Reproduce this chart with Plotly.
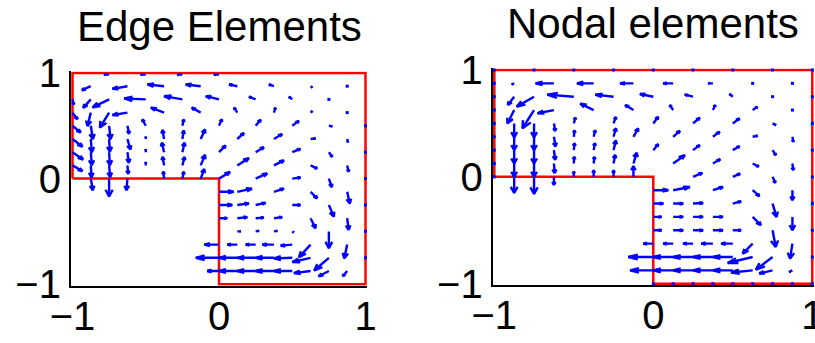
import plotly.graph_objects as go

# ---------------- data ----------------
BOUNDARY_X = [-1, -1, 1, 1, 0, 0, -1]
BOUNDARY_Y = [0, 1, 1, -1, -1, 0, 0]
TICK_VALS = [-1, 0, 1]
TICK_TEXT = ["\u22121", "0", "1"]
TITLES = ["Edge Elements", "Nodal elements"]

# Edge elements: rows of base points (y), x positions and vector components
EDGE_Y = [0.985, 0.875, 0.75, 0.625, 0.5, 0.375, 0.25, 0.125, 0.0,
          -0.125, -0.25, -0.375, -0.5, -0.625, -0.75, -0.875]
EDGE_X = [
    [-0.75, -0.5, -0.25, 0.0],
    [-0.875, -0.625, -0.375, -0.125, 0.125, 0.375, 0.625, 0.875],
    [-1.0, -0.875, -0.75, -0.5, -0.25, 0.0, 0.25, 0.5, 0.75],
    [-1.0, -0.875, -0.75, -0.625, -0.375, -0.125, 0.125, 0.375, 0.625, 0.875],
    [-1.0, -0.875, -0.75, -0.625, -0.5, -0.25, 0.0, 0.25, 0.5, 0.75, 1.0],
    [-1.0, -0.875, -0.75, -0.625, -0.5, -0.375, -0.25, -0.125, 0.125, 0.375, 0.625, 0.875],
    [-1.0, -0.875, -0.75, -0.625, -0.5, -0.375, -0.25, 0.0, 0.25, 0.5, 0.75, 1.0],
    [-1.0, -0.875, -0.75, -0.625, -0.5, -0.375, -0.25, -0.125, 0.125, 0.375, 0.625, 0.875],
    [-0.875, -0.75, -0.625, -0.375, -0.25, -0.125, 0.0, 0.25, 0.5, 0.75, 1.0],
    [0.0, 0.125, 0.375, 0.625, 0.875],
    [0.0, 0.125, 0.25, 0.5, 0.75, 1.0],
    [0.0, 0.125, 0.25, 0.375, 0.625, 0.875],
    [0.125, 0.25, 0.375, 0.5, 0.75, 1.0],
    [0.0, 0.125, 0.25, 0.375, 0.5, 0.625, 0.875],
    [0.0, 0.125, 0.25, 0.375, 0.5, 0.625, 0.75, 1.0],
    [0.0, 0.125, 0.25, 0.375, 0.5, 0.625, 0.75, 0.875],
]
EDGE_U = [
    [-0.035, -0.035, -0.035, -0.035],
    [-0.061, -0.102, -0.113, -0.102, -0.056, -0.034, 0.012, 0.0],
    [0.009, -0.052, -0.113, -0.147, -0.125, -0.09, -0.045, -0.022, 0.0],
    [0.034, -0.023, -0.063, -0.102, -0.09, -0.061, -0.022, 0.01, 0.012, 0.0],
    [0.056, 0.014, 0.01, 0.011, -0.023, 0.01, 0.02, 0.034, 0.045, 0.023, 0.0],
    [0.068, 0.007, 0.005, 0.02, 0.0, -0.011, 0.01, 0.03, 0.045, 0.056, 0.034, 0.005],
    [0.072, 0.007, 0.005, 0.01, 0.0, -0.015, 0.015, 0.045, 0.056, 0.056, 0.023, 0.0],
    [0.068, 0.005, 0.007, 0.005, 0.0, -0.01, 0.015, 0.03, 0.079, 0.068, 0.045, 0.01],
    [0.014, 0.0, -0.007, -0.005, 0.01, 0.025, 0.075, 0.079, 0.056, 0.02, 0.0],
    [0.1, 0.1, 0.068, 0.045, 0.018],
    [0.09, 0.079, 0.068, 0.056, 0.034, 0.0],
    [0.056, 0.068, 0.056, 0.056, 0.034, 0.01],
    [0.023, 0.023, 0.023, 0.01, 0.0, 0.0],
    [-0.1, -0.068, -0.068, -0.079, -0.079, -0.079, -0.02],
    [-0.158, -0.125, -0.125, -0.125, -0.125, -0.124, -0.1, 0.0],
    [-0.08, -0.125, -0.125, -0.125, -0.125, -0.113, -0.07, -0.03],
]
EDGE_V = [
    [0.0, 0.0, 0.0, 0.0],
    [-0.038, -0.025, 0.016, 0.016, 0.016, 0.016, -0.012, 0.0],
    [-0.047, -0.079, -0.076, 0.009, 0.031, 0.031, 0.025, 0.025, 0.0],
    [-0.063, -0.126, -0.142, -0.023, 0.047, 0.047, 0.047, 0.045, 0.015, 0.0],
    [-0.063, -0.126, -0.126, -0.075, 0.06, 0.06, 0.061, 0.057, 0.047, -0.005, 0.0],
    [-0.073, -0.125, -0.12, -0.1, 0.02, 0.085, 0.08, 0.09, 0.057, 0.047, 0.005, -0.03],
    [-0.069, -0.123, -0.123, -0.1, 0.025, 0.09, 0.09, 0.063, 0.047, 0.032, -0.044, 0.0],
    [-0.054, -0.113, -0.11, -0.08, 0.03, 0.08, 0.08, 0.1, 0.069, 0.047, -0.03, -0.06],
    [-0.11, -0.17, -0.11, 0.065, 0.065, 0.09, 0.063, 0.05, 0.01, -0.08, 0.0],
    [0.0, 0.03, 0.03, -0.063, -0.11],
    [0.0, 0.015, 0.02, 0.0, -0.11, 0.0],
    [0.0, 0.01, 0.005, 0.01, -0.095, -0.11],
    [0.0, 0.005, 0.005, -0.01, -0.16, 0.0],
    [0.0, 0.0, 0.0, 0.0, -0.01, -0.12, -0.13],
    [0.0, 0.0, 0.0, 0.0, -0.005, -0.04, -0.12, 0.0],
    [0.0, 0.0, 0.0, 0.0, 0.0, -0.02, -0.05, -0.05],
]

# Nodal elements
NODAL_Y = [0.875, 0.75, 0.625, 0.5, 0.375, 0.25, 0.125, 0.0,
           -0.125, -0.25, -0.375, -0.5, -0.625, -0.75, -0.875]
NODAL_X = [
    [-0.875, -0.625, -0.375, -0.125, 0.125, 0.375, 0.625, 0.875],
    [-0.875, -0.75, -0.5, -0.25, 0.0, 0.25, 0.5, 0.75],
    [-0.875, -0.75, -0.625, -0.375, -0.125, 0.125, 0.375, 0.625, 0.875],
    [-0.875, -0.75, -0.625, -0.5, -0.25, 0.0, 0.25, 0.5, 0.75],
    [-0.875, -0.75, -0.625, -0.5, -0.375, -0.25, -0.125, 0.125, 0.375, 0.625, 0.875],
    [-0.875, -0.75, -0.625, -0.5, -0.375, -0.25, 0.0, 0.25, 0.5, 0.75],
    [-0.875, -0.75, -0.625, -0.5, -0.375, -0.25, -0.125, 0.125, 0.375, 0.625, 0.875],
    [-0.875, -0.75, -0.625, -0.5, -0.375, -0.25, -0.125, 0.25, 0.5, 0.75],
    [0.0, 0.125, 0.375, 0.625, 0.875],
    [0.0, 0.125, 0.25, 0.5, 0.75],
    [0.0, 0.125, 0.25, 0.375, 0.625, 0.875],
    [0.0, 0.125, 0.25, 0.375, 0.5, 0.75],
    [0.0, 0.125, 0.25, 0.375, 0.5, 0.625, 0.875],
    [0.0, 0.125, 0.25, 0.375, 0.5, 0.625, 0.75],
    [0.0, 0.125, 0.25, 0.375, 0.5, 0.625, 0.75, 0.875],
]
NODAL_U = [
    [-0.015, -0.115, -0.105, -0.084, -0.063, -0.03, 0.0, 0.0],
    [-0.04, -0.109, -0.167, -0.115, -0.084, -0.052, -0.02, 0.0],
    [-0.042, -0.073, -0.103, -0.084, -0.052, -0.021, 0.015, 0.03, 0.0],
    [0.0, 0.0, 0.008, 0.01, 0.015, 0.031, 0.042, 0.042, 0.021],
    [0.0, 0.0, 0.01, 0.005, 0.01, 0.015, 0.03, 0.042, 0.042, 0.031, 0.005],
    [0.0, 0.0, 0.008, 0.005, 0.008, 0.015, 0.031, 0.042, 0.042, 0.021],
    [0.0, 0.0, 0.005, 0.003, 0.005, 0.01, 0.021, 0.073, 0.046, 0.038, 0.005],
    [0.0, 0.0, 0.0, 0.0, 0.0, 0.0, 0.0, 0.058, 0.046, 0.017],
    [0.094, 0.105, 0.063, 0.042, 0.0],
    [0.063, 0.063, 0.063, 0.052, 0.025],
    [0.052, 0.063, 0.063, 0.063, 0.052, 0.0],
    [0.052, 0.063, 0.063, 0.063, 0.052, 0.02],
    [-0.063, -0.063, -0.063, -0.073, -0.073, -0.063, -0.015],
    [-0.157, -0.125, -0.125, -0.125, -0.125, -0.157, -0.105],
    [-0.146, -0.125, -0.125, -0.125, -0.125, -0.136, -0.084, -0.02],
]
NODAL_V = [
    [-0.01, 0.0, 0.0, 0.0, 0.0, 0.0, 0.0, 0.0],
    [-0.078, -0.093, 0.02, 0.02, 0.025, 0.02, 0.025, 0.0],
    [-0.125, -0.17, -0.03, 0.06, 0.047, 0.047, 0.047, 0.03, 0.0],
    [-0.13, -0.13, -0.07, 0.055, 0.06, 0.062, 0.053, 0.047, -0.016],
    [-0.125, -0.125, -0.09, 0.06, 0.06, 0.08, 0.078, 0.056, 0.047, 0.01, -0.047],
    [-0.125, -0.125, -0.09, 0.065, 0.065, 0.09, 0.056, 0.047, 0.037, -0.047],
    [-0.125, -0.125, -0.09, 0.062, 0.062, 0.08, 0.1, 0.078, 0.04, -0.03, -0.062],
    [-0.15, -0.16, -0.075, 0.05, 0.06, 0.06, 0.1, 0.037, 0.03, -0.056],
    [0.0, 0.03, 0.03, -0.056, -0.093],
    [0.0, 0.0, 0.005, 0.02, -0.125],
    [0.0, 0.0, 0.0, 0.0, -0.078, -0.125],
    [0.0, 0.0, 0.0, 0.0, 0.0, -0.156],
    [0.0, 0.0, 0.0, 0.0, 0.0, -0.093, -0.14],
    [0.0, 0.0, 0.0, 0.0, 0.0, -0.056, -0.118],
    [0.0, 0.0, 0.0, 0.0, 0.0, -0.02, -0.03, -0.015],
]
# boundary nodes of the nodal mesh (zero vectors, drawn as dots)
NODE_BX = [-1, -0.75, -0.5, -0.25, 0, 0.25, 0.5, 0.75, 1,
           -1, -1, -1, -1, -1, -1, -1, -1,
           0, 0.125, 0.25, 0.375, 0.5, 0.625, 0.75, 0.875, 1,
           1, 1, 1, 1, 1, 1, 1]
NODE_BY = [1, 1, 1, 1, 1, 1, 1, 1, 1,
           0.875, 0.75, 0.625, 0.5, 0.375, 0.25, 0.125, 0,
           -1, -1, -1, -1, -1, -1, -1, -1, -1,
           0.75, 0.5, 0.25, 0, -0.25, -0.5, -0.75]

# ---------------- drawing helpers ----------------
BLUE = "#0000ff"
RED = "#ff0000"
FONT = "Liberation Sans, Arial, Helvetica, sans-serif"


def quiver_lines(ys, xs, us, vs, alpha=0.38, beta=0.38):
    lx, ly, dx, dy = [], [], [], []
    for y, xrow, urow, vrow in zip(ys, xs, us, vs):
        for x, u, v in zip(xrow, urow, vrow):
            if abs(u) < 1e-9 and abs(v) < 1e-9:
                dx.append(x)
                dy.append(y)
                continue
            lx += [x, x + u, None]
            ly += [y, y + v, None]
            lx += [x + u - alpha * (u + beta * v), x + u, x + u - alpha * (u - beta * v), None]
            ly += [y + v - alpha * (v - beta * u), y + v, y + v - alpha * (v + beta * u), None]
    return lx, ly, dx, dy


W, H = 815, 343
# pixel placement of data -1..1 in each panel: (x_left, x_right, y_top, y_bottom)
PANELS = [(72.5, 365.5, 73.0, 284.2), (494.3, 812.3, 70.0, 283.7)]
PAD = 1.6

fig = go.Figure()
datasets = [(EDGE_Y, EDGE_X, EDGE_U, EDGE_V), (NODAL_Y, NODAL_X, NODAL_U, NODAL_V)]

for i, (ds, (xl, xr, yt, yb)) in enumerate(zip(datasets, PANELS)):
    xa = "x" if i == 0 else "x2"
    ya = "y" if i == 0 else "y2"
    lx, ly, dx, dy = quiver_lines(*ds)
    if i == 1:
        dx = dx + NODE_BX
        dy = dy + NODE_BY
    fig.add_trace(go.Scatter(x=BOUNDARY_X, y=BOUNDARY_Y, mode="lines",
                             line=dict(color=RED, width=2.5), xaxis=xa, yaxis=ya,
                             hoverinfo="skip", showlegend=False))
    fig.add_trace(go.Scatter(x=lx, y=ly, mode="lines",
                             line=dict(color=BLUE, width=2.4), xaxis=xa, yaxis=ya,
                             hoverinfo="skip", showlegend=False, connectgaps=False))
    fig.add_trace(go.Scatter(x=dx, y=dy, mode="markers",
                             marker=dict(color=BLUE, size=3, symbol="square"),
                             xaxis=xa, yaxis=ya, cliponaxis=False,
                             hoverinfo="skip", showlegend=False))
    sx = (xr - xl) / 2.0
    sy = (yb - yt) / 2.0
    xdom = [(xl - PAD) / W, (xr + PAD) / W]
    ydom = [1 - (yb + PAD) / H, 1 - (yt - PAD) / H]
    axis_common = dict(showgrid=False, zeroline=False, showline=True, linecolor="black",
                       linewidth=2, ticks="", tickvals=TICK_VALS, ticktext=TICK_TEXT,
                       tickfont=dict(family=FONT, size=40, color="black"),
                       layer="below traces", automargin=False, ticklabeloverflow="allow")
    fig.layout["xaxis" if i == 0 else "xaxis2"] = dict(
        domain=xdom, range=[-1 - PAD / sx, 1 + PAD / sx], anchor=ya,
        ticklabelstandoff=-6, **axis_common)
    fig.layout["yaxis" if i == 0 else "yaxis2"] = dict(
        domain=ydom, range=[-1 - PAD / sy, 1 + PAD / sy], anchor=xa, **axis_common)
    fig.add_annotation(text=TITLES[i], x=(xl + xr) / 2 / W, y=1 - (yt - 47) / H,
                       xref="paper", yref="paper", showarrow=False,
                       xanchor="center", yanchor="middle",
                       font=dict(family=FONT, size=42, color="black"))

fig.update_layout(width=W, height=H, margin=dict(l=0, r=0, t=0, b=0),
                  paper_bgcolor="white", plot_bgcolor="white")
fig.write_html("out.html")
